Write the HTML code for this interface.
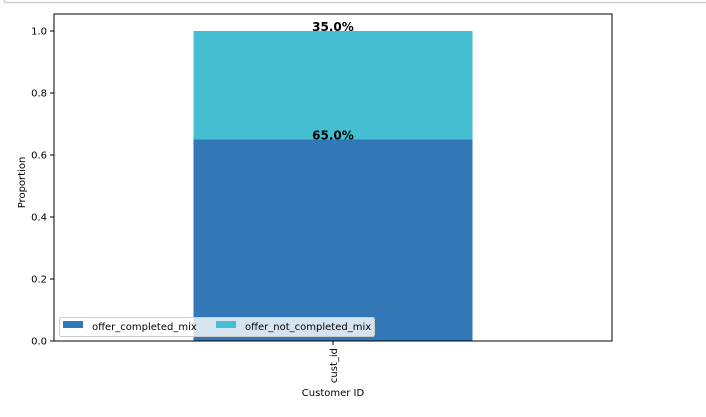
<!DOCTYPE html>
<html><head><meta charset="utf-8"><style>
body{margin:0;background:#fff;width:706px;height:412px;overflow:hidden}
text{font-family:"DejaVu Sans","Liberation Sans",sans-serif;fill:#000}
</style></head><body>
<svg width="706" height="412">
<path d="M4.5 0V2.5H706" fill="none" stroke="#d0d0d0" stroke-width="1.5"/>
<g id="plot"></g>
</svg>
<script>
const categories=["cust_id"];
const seriesNames=["offer_completed_mix","offer_not_completed_mix"];
const completed=[0.65];
const notCompleted=[0.35];
const yTicks=[0,0.2,0.4,0.6,0.8,1.0];
const tickLabels=["0.0","0.2","0.4","0.6","0.8","1.0"];
const colors=["#3278b6","#44bed0"];
const L=54,R=612,T=14,B=341;
const y=v=>B-v*310;
const x=i=>L+(R-L)*(i+0.5)/categories.length;
const bw=279;
const g=document.getElementById('plot');
const NS="http://www.w3.org/2000/svg";
function mk(t,a,txt){const e=document.createElementNS(NS,t);for(const k in a)e.setAttribute(k,a[k]);if(txt!==undefined)e.textContent=txt;g.appendChild(e);return e;}
const labels=[];
categories.forEach((c,i)=>{
  const vals=[completed[i],notCompleted[i]];let base=0;
  vals.forEach((v,s)=>{
    const r=mk('rect',{x:x(i)-bw/2,y:y(base+v),width:bw,height:y(base)-y(base+v),fill:colors[s]});
    
    
    labels.push([x(i),y(base+v),v]);
    base+=v;
  });
  const tk=mk('line',{x1:x(i),x2:x(i),y1:B,y2:B+4,stroke:'#000'});
  
  
  const tl=mk('text',{transform:`translate(${x(i)+4},${B+7}) rotate(-90)`,'text-anchor':'end','font-size':'10'},c);
  
  
});
labels.forEach(([lxp,lyp,v])=>{
  const t=mk('text',{x:lxp,y:lyp,'text-anchor':'middle','font-size':'12','font-weight':'bold'},(v*100).toFixed(1)+'%');
  
  
});
yTicks.forEach((v,i)=>{
  const l=mk('line',{x1:L-4,x2:L,y1:y(v),y2:y(v),stroke:'#000'});
  
  
  const t=mk('text',{x:L-7,y:y(v)+3.5,'text-anchor':'end','font-size':'10'},tickLabels[i]);
  
  
});
const fr=mk('rect',{x:L,y:T,width:R-L,height:B-T,fill:'none',stroke:'#000','stroke-width':1});


const yt=mk('text',{transform:`translate(25,${(T+B)/2+5}) rotate(-90)`,'text-anchor':'middle','font-size':'10'},'Proportion');


const xt=mk('text',{x:333,y:396,'text-anchor':'middle','font-size':'10'},'Customer ID');


const lg=mk('rect',{x:59.5,y:317.5,width:315,height:19,rx:2,fill:'#fff','fill-opacity':0.8,stroke:'#ccc'});


const lx=[63,216];
seriesNames.forEach((n,s)=>{
  const p=mk('rect',{x:lx[s],y:321,width:20,height:7,fill:colors[s]});
  
  
  const t=mk('text',{x:lx[s]+29,y:330,'font-size':'10'},n);
  
  
});
</script>
</body></html>
